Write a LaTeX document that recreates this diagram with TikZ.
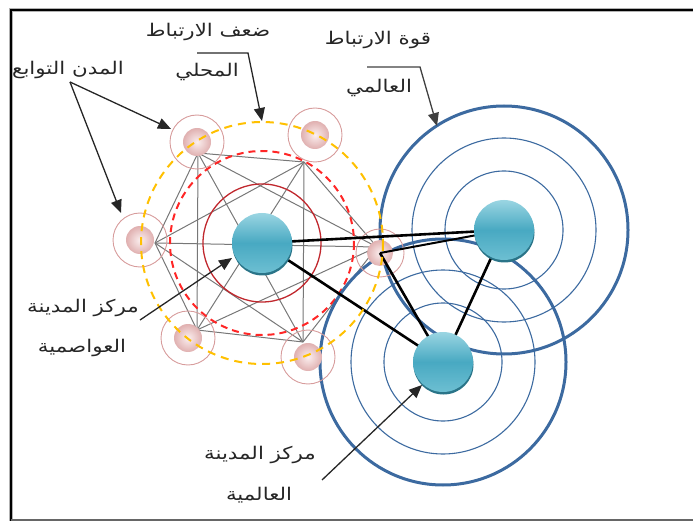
\documentclass[tikz,border=0pt]{standalone}
\usepackage{fontspec}
\newfontfamily\arabicfont[Script=Arabic,FakeStretch=1.22]{DejaVu Sans}
\TeXXeTstate=1
\usetikzlibrary{arrows.meta,shadows}
\definecolor{ringblue}{HTML}{3C6AA0}
\definecolor{ballTop}{HTML}{9AD5E2}
\definecolor{ballMid}{HTML}{48A9C2}
\definecolor{ballBot}{HTML}{6DBFD2}
\definecolor{ballShadow}{HTML}{2A7488}
\definecolor{pinkIn}{HTML}{FBEFEF}
\definecolor{pinkOut}{HTML}{E0B0B0}
\definecolor{pinkRing}{HTML}{D79C9C}
\definecolor{redDash}{HTML}{FF2626}
\definecolor{redSolid}{HTML}{C0272D}
\definecolor{yellowDash}{HTML}{FFC000}
\definecolor{netgray}{HTML}{777777}
\begin{document}
\begin{tikzpicture}[x=1pt,y=-1pt,
  lbl/.style={font=\arabicfont\fontsize{17.5}{20}\selectfont, inner sep=0pt, text=black!85},
  ptr/.style={draw=black!85, line width=1.3pt, -{Triangle[length=13pt,width=11pt]}},
  glob/.style={circle, minimum size=60pt, inner sep=0pt, top color=ballTop, bottom color=ballBot, middle color=ballMid,
     drop shadow={shadow xshift=0.5pt, shadow yshift=-2.5pt, fill=ballShadow, opacity=1}},
  sat/.style={circle, minimum size=28pt, inner sep=0pt, inner color=pinkIn, outer color=pinkOut},
  satring/.style={circle, draw=pinkRing, line width=0.9pt, minimum size=54pt, inner sep=0pt},
  net/.style={draw=netgray, line width=1pt},
  link/.style={draw=black, line width=2.6pt},
  thinring/.style={draw=ringblue, line width=1.1pt},
  thickring/.style={draw=ringblue, line width=3pt},
]
\useasboundingbox (0,0) rectangle (693,521);
% frame
\draw[black!30, line width=4pt] (11,521) -- (11,10) -- (693,10);
\draw[black, line width=2.2pt] (11,521) -- (11,10) -- (693,10);
\draw[black!60, line width=1.8pt] (11,520) -- (693,520);

% coordinates of network vertices
\coordinate (v1) at (198,153);
\coordinate (v2) at (304,162);
\coordinate (v3) at (377,247);
\coordinate (v4) at (303,342);
\coordinate (v5) at (197,330);
\coordinate (v6) at (155,243);
\coordinate (cc) at (262,243);

% gray network (complete graph)
\foreach \a/\b in {v1/v2,v1/v3,v1/v4,v1/v5,v1/v6,v2/v3,v2/v4,v2/v5,v2/v6,v3/v4,v3/v5,v3/v6,v4/v5,v4/v6,v5/v6}
  \draw[net] (\a) -- (\b);

% local circles
\draw[redSolid, line width=1.3pt] (cc) circle[radius=59];
\draw[redDash, line width=2pt, dash pattern=on 7pt off 5pt] (cc) circle[radius=92];

% global rings
\coordinate (gc1) at (504,230);
\coordinate (gc2) at (443,362);
\draw[thinring] (gc1) circle[radius=59];
\draw[thinring] (gc1) circle[radius=92];
\draw[thickring] (gc1) circle[radius=124];
\draw[thinring] (gc2) circle[radius=59];
\draw[thinring] (gc2) circle[radius=92];
\draw[thickring] (gc2) circle[radius=123];

% satellites
\node[sat] (sTL) at (197,142) {};
\node[sat] (sTR) at (315,135) {};
\node[sat] (sL) at (140,240) {};
\node[sat, minimum size=26pt] (sR) at (380,253) {};
\node[sat] (sBL) at (188,338) {};
\node[sat] (sBR) at (308,357) {};
\node[satring] (rTL) at (sTL) {};
\node[satring] (rTR) at (sTR) {};
\node[satring] (rL) at (sL) {};
\node[satring, minimum size=48pt] (rR) at (sR) {};
\node[satring] (rBL) at (sBL) {};
\node[satring] (rBR) at (sBR) {};

% black links
\draw[link] (cc) -- (gc1);
\draw[link, line width=2pt] (sR.center) -- (gc1);
\draw[link] (sR.center) -- (gc2);
\draw[link] (gc1) -- (gc2);
\draw[link] (cc) -- (gc2);

% yellow dashed circle
\draw[yellowDash, line width=2pt, dash pattern=on 8pt off 6pt] (cc) circle[radius=121];

% main balls
\node[glob] (capital) at (cc) {};
\node[glob] (global1) at (gc1) {};
\node[glob] (global2) at (gc2) {};

% labels
\node[lbl] (t1) at (208,32) {\beginR ضعف الارتباط\endR};
\node[lbl] (t2) at (207,72) {\beginR المحلي\endR};
\node[lbl] (t3) at (68,70) {\beginR المدن التوابع\endR};
\node[lbl] (t4) at (378,40) {\beginR قوة الارتباط\endR};
\node[lbl] (t5) at (379,88) {\beginR العالمي\endR};
\node[lbl] (t6) at (83,308) {\beginR مركز المدينة\endR};
\node[lbl] (t7) at (82,348) {\beginR العواصمية\endR};
\node[lbl] (t8) at (260,455) {\beginR مركز المدينة\endR};
\node[lbl] (t9) at (259,495) {\beginR العالمية\endR};

% pointers
\coordinate (p0) at (70,82);
\coordinate (tipTL) at (171,129);
\coordinate (tipL) at (121,213);
\draw[ptr] (p0) -- (tipTL);
\draw[ptr] (p0) -- (tipL);
\coordinate (e1a) at (197,53);
\coordinate (e1b) at (248,53);
\coordinate (tipY) at (262,121);
\draw[ptr] (e1a) -- (e1b) -- (tipY);
\coordinate (e2a) at (367,67);
\coordinate (e2b) at (420,67);
\coordinate (tipG) at (437,126);
\draw[ptr, draw=black!75] (e2a) -- (e2b) -- (tipG);
\coordinate (q1) at (140,320);
\coordinate (tipC) at (232,258);
\draw[ptr] (q1) -- (tipC);
\coordinate (q2) at (322,480);
\coordinate (tipB) at (422,385);
\draw[ptr] (q2) -- (tipB);
\end{tikzpicture}
\end{document}
